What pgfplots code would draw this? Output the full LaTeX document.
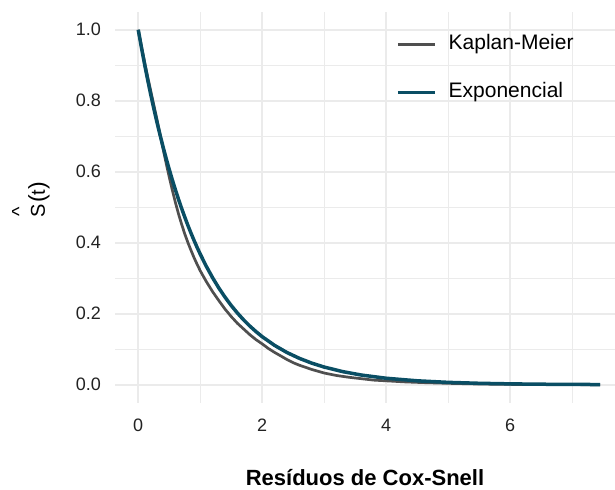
\documentclass[border=0pt]{standalone}
\usepackage{pgfplots}
\pgfplotsset{compat=1.18}
\usepackage{fontspec}
\setmainfont{Liberation Sans}

\definecolor{gridgray}{HTML}{EBEBEB}
\definecolor{kmgray}{HTML}{4F4F4F}
\definecolor{exppetrol}{HTML}{0A4E64}
\definecolor{txt}{HTML}{222222}

\begin{document}
\begin{tikzpicture}
\begin{axis}[
  scale only axis,
  width=500pt, height=390.5pt,
  xmin=-0.375, xmax=7.69,
  ymin=-0.05, ymax=1.05,
  axis line style={draw=none},
  xtick={0,2,4,6},
  minor xtick={1,3,5,7},
  ytick={0,0.2,0.4,0.6,0.8,1.0},
  minor ytick={0.1,0.3,0.5,0.7,0.9},
  major tick length=0pt, minor tick length=0pt,
  grid=both,
  major grid style={color=gridgray, line width=2pt},
  minor grid style={color=gridgray, line width=1pt},
  /pgf/number format/assume math mode=true,
  yticklabel style={/pgf/number format/fixed, /pgf/number format/precision=1,
    /pgf/number format/fixed zerofill, anchor=east, inner sep=0pt, xshift=-14pt,
    font=\fontsize{18}{20}\selectfont, text=txt},
  xticklabel style={anchor=north, inner sep=0pt, yshift=-16pt,
    font=\fontsize{18}{20}\selectfont, text=txt},
  xlabel={\textbf{Resíduos de Cox-Snell}},
  xlabel style={at={(axis description cs:0.5,0)}, anchor=base, yshift=-83pt,
    font=\fontsize{22}{24}\selectfont, text=black, inner sep=0pt},
  ylabel={\rlap{\raisebox{0.95em}[0pt][0pt]{\kern0.05em\textasciicircum}}S\kern0.05em{\fontsize{23}{24}\selectfont(}t{\fontsize{23}{24}\selectfont)}},
  ylabel style={at={(axis description cs:-0.14,0.52)}, anchor=base, rotate=0,
    font=\fontsize{20}{22}\selectfont, text=black, inner sep=0pt},
  legend style={draw=none, fill=none, at={(axis description cs:0.562,0.947)},
    anchor=north west, font=\fontsize{21}{24}\selectfont, text=black,
    row sep=25pt, inner sep=0pt,
    nodes={inner sep=2pt, text height=15pt, text depth=4pt},
    /tikz/every odd column/.append style={column sep=10pt}},
  legend cell align=left,
  legend image code/.code={\draw[#1] (0pt,0pt) -- (37pt,0pt);},
  clip=true,
]
\coordinate (SW) at (rel axis cs:0,0);
\coordinate (NE) at (rel axis cs:1,1);

% Kaplan-Meier estimate of the Cox-Snell residuals
\addplot[color=kmgray, line width=2.7pt, line join=round] coordinates {
(0,1.000) (0.05,0.955) (0.10,0.911) (0.15,0.869) (0.20,0.829) (0.25,0.789)
(0.30,0.749) (0.35,0.707) (0.40,0.665) (0.45,0.624) (0.50,0.585) (0.55,0.548)
(0.60,0.513) (0.65,0.481) (0.70,0.452) (0.75,0.425) (0.80,0.401) (0.85,0.379)
(0.90,0.358) (0.95,0.339) (1.00,0.321) (1.10,0.290) (1.20,0.262) (1.30,0.237)
(1.40,0.213) (1.50,0.192) (1.60,0.173) (1.70,0.157) (1.80,0.141) (1.90,0.127)
(2.00,0.115) (2.10,0.102) (2.20,0.091) (2.30,0.081) (2.40,0.071) (2.50,0.062)
(2.60,0.055) (2.70,0.049) (2.80,0.043) (2.90,0.038) (3.00,0.033) (3.20,0.026)
(3.40,0.021) (3.60,0.017) (3.80,0.013) (4.00,0.011) (4.30,0.008) (4.60,0.006)
(5.00,0.004) (5.50,0.002) (6.00,0.001) (7.00,0.0004) (7.45,0.0)
};
\addlegendentry{Kaplan-Meier}

% Fitted exponential survival curve
\addplot[color=exppetrol, line width=3.5pt, line join=round] coordinates {
(0,1.0000) (0.05,0.9512) (0.10,0.9048) (0.15,0.8607) (0.20,0.8187) (0.25,0.7788)
(0.30,0.7408) (0.35,0.7047) (0.40,0.6703) (0.45,0.6376) (0.50,0.6065) (0.55,0.5769)
(0.60,0.5488) (0.65,0.5220) (0.70,0.4966) (0.75,0.4724) (0.80,0.4493) (0.85,0.4274)
(0.90,0.4066) (0.95,0.3867) (1.00,0.3679) (1.10,0.3329) (1.20,0.3012) (1.30,0.2725)
(1.40,0.2466) (1.50,0.2231) (1.60,0.2019) (1.70,0.1827) (1.80,0.1653) (1.90,0.1496)
(2.00,0.1353) (2.20,0.1108) (2.40,0.0907) (2.60,0.0743) (2.80,0.0608) (3.00,0.0498)
(3.30,0.0369) (3.60,0.0273) (4.00,0.0183) (4.50,0.0111) (5.00,0.0067) (5.50,0.0041)
(6.00,0.0025) (6.50,0.0015) (7.00,0.0009) (7.45,0.0006)
};
\addlegendentry{Exponencial}
\end{axis}
\pgfresetboundingbox
\path ([xshift=-115pt,yshift=-87pt]SW) rectangle ([yshift=12pt]NE);
\end{tikzpicture}
\end{document}
